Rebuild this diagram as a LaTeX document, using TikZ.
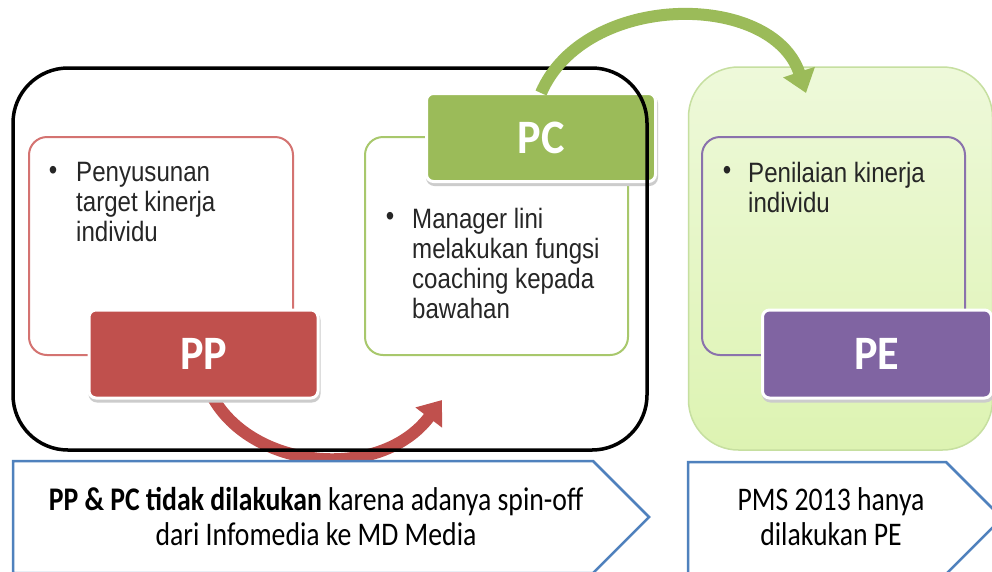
\documentclass[tikz,border=0pt]{standalone}
\usepackage{fontspec}
\setmainfont{Liberation Sans}
\newfontfamily\bodyfont[FakeStretch=0.86]{Liberation Sans}
\newfontfamily\calfont[FakeStretch=0.84]{Carlito}
\newfontfamily\labfont[FakeStretch=0.92]{Carlito}
\usetikzlibrary{arrows.meta}
\definecolor{cred}{HTML}{C0504D}
\definecolor{credl}{HTML}{D47371}
\definecolor{cgreen}{HTML}{9BBB59}
\definecolor{cgreenl}{HTML}{A8C86C}
\definecolor{cpurple}{HTML}{8064A2}
\definecolor{cpurplel}{HTML}{8A72AC}
\definecolor{cblue}{HTML}{4F81BD}
\definecolor{petop}{HTML}{EEF9DA}
\definecolor{pebot}{HTML}{DDF3B2}
\definecolor{peborder}{HTML}{C6DFA0}
\begin{document}
\begin{tikzpicture}[x=1pt,y=-1pt,
  outbox/.style={rectangle, rounded corners=18pt, draw=#1, line width=2pt,
    minimum width=263pt, minimum height=218pt, inner sep=0pt},
  labelbox/.style={rectangle, rounded corners=7pt, fill=#1, draw=white, line width=3pt,
    minimum width=229pt, minimum height=88pt, inner sep=0pt, text=white,
    font=\labfont\bfseries\fontsize{48}{50}\selectfont,
    preaction={draw=black!20, fill=black!20, line width=3pt, transform canvas={yshift=-3pt,xshift=1pt}}},
  bodytxt/.style={font=\bodyfont\fontsize{28}{30}\selectfont, align=left, inner sep=0pt, anchor=north west, text=black!85},
  bullet/.style={font=\bodyfont\fontsize{28}{30}\selectfont, inner sep=0pt, text=black!85},
  bottxt/.style={font=\calfont\fontsize{33}{35}\selectfont, align=center, inner sep=0pt, anchor=north},
  bigarrow/.style={draw=#1, line width=12pt, -{Triangle[length=22pt,width=32pt]}},
  pentagon/.style={draw=cblue, fill=white, line width=2.5pt, line join=miter}
]
\useasboundingbox (0,0) rectangle (992,571);
\clip (0,0) rectangle (992,571);
\fill[white] (0,0) rectangle (992,571);

% PE outer light green panel
\node[rectangle, rounded corners=50pt, top color=petop, bottom color=pebot, draw=peborder,
  line width=1.5pt, minimum width=304pt, minimum height=383pt, inner sep=0pt] (peouter) at (840.5,258.5) {};

% content boxes
\node[outbox=credl, minimum width=264pt] (ppcontent) at (161,246) {};
\node[outbox=cgreenl] (pccontent) at (496.5,246) {};
\node[outbox=cpurplel] (pecontent) at (833.5,246) {};

% bullets and texts
\node[bullet] (ppbul) at (53,173) {•};
\node[bodytxt] (pptext) at (76,162) {Penyusunan\\target kinerja\\individu};
\node[bullet] (pcbul) at (390,219) {•};
\node[bodytxt] (pctext) at (412,208) {Manager lini\\melakukan fungsi\\coaching kepada\\bawahan};
\node[bullet] (pebul) at (727,173) {•};
\node[bodytxt] (petext) at (748,162) {Penilaian kinerja\\individu};

% red arrow (drawn under the PP box)
\coordinate (redstart) at (212,396);
\coordinate (redend) at (442,400);
\draw[bigarrow=cred] (redstart) .. controls (252,470) and (380,482) .. (redend);

% label boxes
\node[labelbox=cred] (ppbox) at (203.5,354) {PP};
\node[labelbox=cgreen] (pcbox) at (541,137.5) {PC};
\node[labelbox=cpurple] (pebox) at (877,354) {PE};

% black frame
\node[rectangle, rounded corners=55pt, draw=black, line width=3.5pt,
  minimum width=634pt, minimum height=382pt, inner sep=0pt] (frame) at (330,259) {};

% green arrow
\coordinate (greenend) at (806,93);
\draw[bigarrow=cgreen] ([yshift=-1pt]pcbox.north) .. controls (585,-9) and (772,-9) .. (greenend);

% bottom chevrons
\draw[pentagon] (13,461) -- (593,461) -- (649,517) -- (593,573) -- (13,573) -- cycle;
\draw[pentagon] (688,462) -- (946,462) -- (1002,518) -- (946,574) -- (688,574) -- cycle;
\node[bottxt] (lefttext) at (316,487) {\textbf{PP \& PC tidak dilakukan} karena adanya spin-off\\dari Infomedia ke MD Media};
\node[bottxt] (righttext) at (831,487) {PMS 2013 hanya\\dilakukan PE};
\end{tikzpicture}
\end{document}
